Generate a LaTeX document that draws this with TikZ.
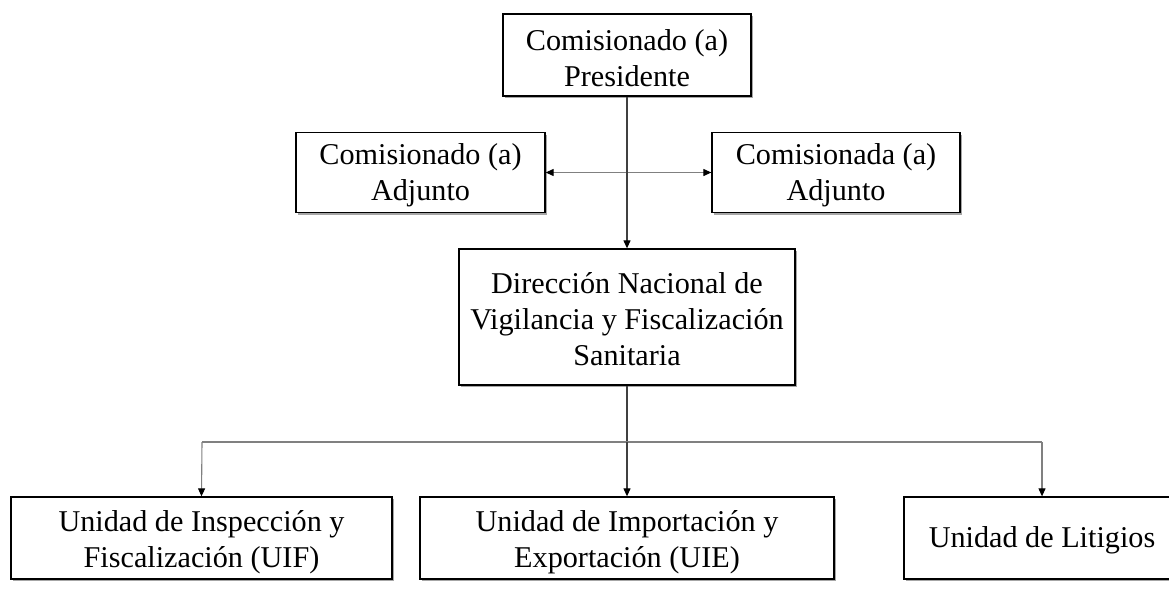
\documentclass[tikz,border=0pt]{standalone}
\usepackage{fontspec}
\setmainfont{Liberation Serif}
\usetikzlibrary{arrows.meta,shadows}
\tikzset{
  box/.style={draw=black, line width=1.3pt, fill=white, rectangle, inner sep=0pt,
    drop shadow={shadow xshift=1.5pt, shadow yshift=-2pt, fill=black, opacity=0.35}},
  txt/.style={align=center, inner sep=0pt, font=\fontsize{30.2}{36}\selectfont},
  vline/.style={draw=black!75, line width=1.1pt},
  hline/.style={draw=black!50, line width=1.1pt},
  tip/.style={-{Triangle[length=8pt,width=7pt,color=black]}},
}
\begin{document}
\begin{tikzpicture}[x=1pt,y=-1pt]
\useasboundingbox (0,0) rectangle (1169,600);
\clip (0,0) rectangle (1169,600);
\node[box, minimum width=248pt, minimum height=82pt] (top) at (627,55) {};
\node[box, minimum width=249pt, minimum height=80pt] (left) at (420.5,172.5) {};
\node[box, minimum width=248pt, minimum height=80pt] (right) at (836,172.5) {};
\node[box, minimum width=336pt, minimum height=136pt] (dir) at (627,317) {};
\node[box, minimum width=381pt, minimum height=82pt] (uif) at (201.5,538) {};
\node[box, minimum width=414pt, minimum height=82pt] (uie) at (627,538) {};
\node[box, minimum width=276pt, minimum height=82pt] (lit) at (1042,538) {};
\node[txt] (top-t) at ([yshift=-3pt]top.center) {Comisionado (a)\\Presidente};
\node[txt] (left-t) at ([yshift=-3pt]left.center) {Comisionado (a)\\Adjunto};
\node[txt] (right-t) at ([yshift=-3pt]right.center) {Comisionada (a)\\Adjunto};
\node[txt] (dir-t) at ([yshift=-2pt]dir.center) {Dirección Nacional de\\Vigilancia y Fiscalización\\Sanitaria};
\node[txt] (uif-t) at ([yshift=-4pt]uif.center) {Unidad de Inspección y\\Fiscalización (UIF)};
\node[txt] (uie-t) at ([yshift=-4pt]uie.center) {Unidad de Importación y\\Exportación (UIE)};
\node[txt] (lit-t) at ([yshift=-2pt]lit.center) {Unidad de Litigios};
\coordinate (bus) at (627,442);
\coordinate (busl) at (202,442);
\coordinate (busr) at (1042,442);
\draw[hline, {Triangle[length=8pt,width=7pt,color=black]}-{Triangle[length=8pt,width=7pt,color=black]}] (left.east) -- (right.west);
\draw[vline, tip] (top.south) -- (dir.north);
\draw[vline] (dir.south) -- (bus);
\draw[hline] (busl) -- (busr);
\draw[vline, tip] (bus) -- (uie.north);
\draw[hline, tip] (busl) -- (uif.north);
\draw[hline, tip] (busr) -- (lit.north);
\end{tikzpicture}
\end{document}
